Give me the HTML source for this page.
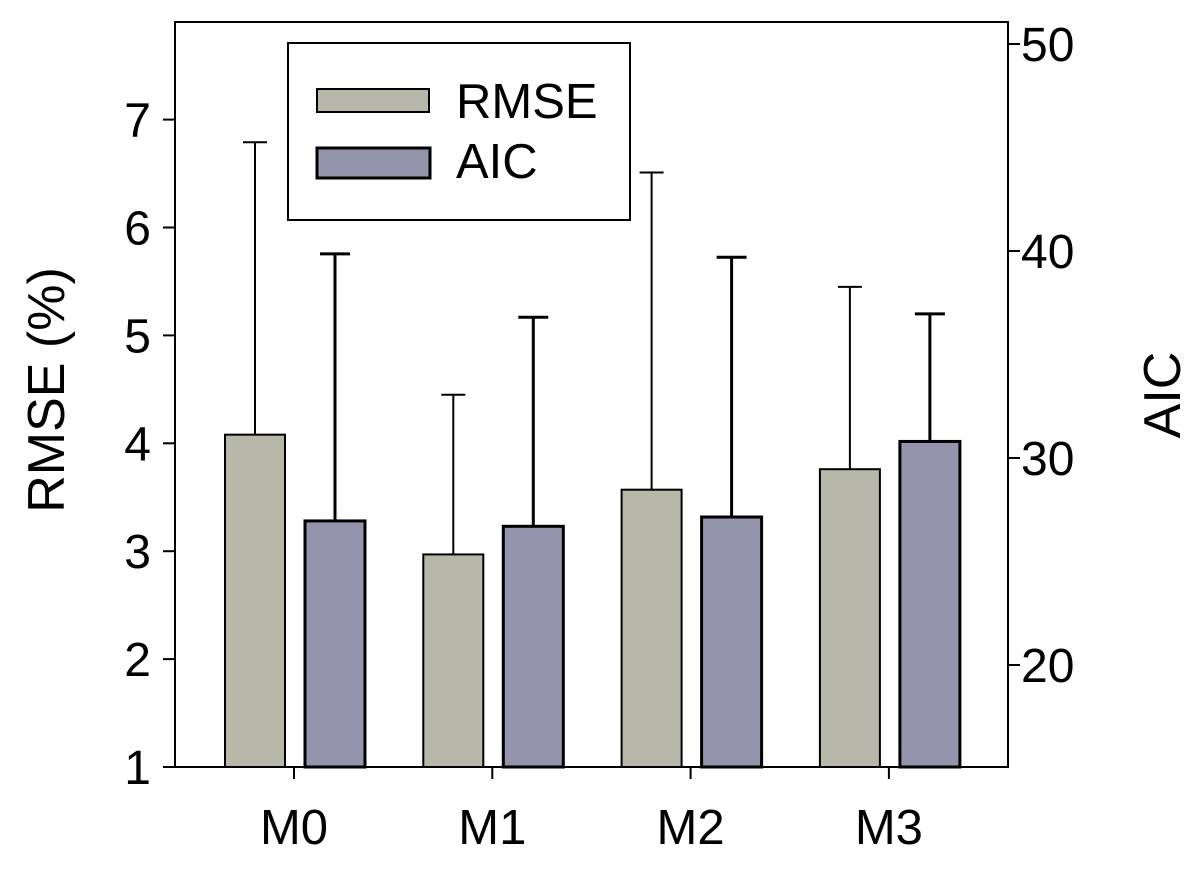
<!DOCTYPE html>
<html><head><meta charset="utf-8"><style>
html,body{margin:0;padding:0;background:#fff;}
svg{display:block;font-family:"Liberation Sans",Arial,sans-serif;}
</style></head><body>
<svg id="chart" width="1200" height="870" viewBox="0 0 1200 870" xmlns="http://www.w3.org/2000/svg"></svg>
<script>
const categories = ["M0","M1","M2","M3"];
const rmseValues = [4.08, 2.97, 3.57, 3.76];
const rmseErrors = [6.79, 4.45, 6.51, 5.45];
const aicValues = [26.96, 26.7, 27.15, 30.8];
const aicErrors = [39.86, 36.8, 39.7, 36.96];
const leftTicks = [1,2,3,4,5,6,7];
const rightTicks = [20,30,40,50];

const NS="http://www.w3.org/2000/svg";
const svg=document.getElementById('chart');
const L=175,R=1008,T=22,B=767;
const yL=v=>767-(v-1)*107.9;
const yR=v=>665-(v-20)*20.7;
const xC=i=>294+i*198.3;
function mk(tag,attrs,parent){const e=document.createElementNS(NS,tag);for(const k in attrs)e.setAttribute(k,attrs[k]);(parent||svg).appendChild(e);return e;}

categories.forEach((c,i)=>{
  const cx=xC(i);
  const g=mk('g',{});
  
  
  const rx=cx-39;
  const e1=mk('line',{x1:rx,x2:rx,y1:yL(rmseErrors[i]),y2:yL(rmseValues[i]),stroke:'#000','stroke-width':2},g);
  
  
  const c1=mk('line',{x1:rx-12,x2:rx+12,y1:yL(rmseErrors[i]),y2:yL(rmseErrors[i]),stroke:'#000','stroke-width':2},g);
  
  
  const b1=mk('rect',{x:cx-69,y:yL(rmseValues[i]),width:60,height:B-yL(rmseValues[i]),fill:'#b8b8aa',stroke:'#000','stroke-width':2},g);
  
  
  const ax=cx+41;
  const e2=mk('line',{x1:ax,x2:ax,y1:yR(aicErrors[i]),y2:yR(aicValues[i]),stroke:'#000','stroke-width':3},g);
  
  
  const c2=mk('line',{x1:ax-15,x2:ax+15,y1:yR(aicErrors[i]),y2:yR(aicErrors[i]),stroke:'#000','stroke-width':3},g);
  
  
  const b2=mk('rect',{x:cx+11,y:yR(aicValues[i]),width:60,height:B-yR(aicValues[i]),fill:'#9494ac',stroke:'#000','stroke-width':3},g);
  
  
  const t=mk('line',{x1:cx,x2:cx,y1:B,y2:B+12,stroke:'#000','stroke-width':2});
  
  
  const tl=mk('text',{x:cx,y:844,'text-anchor':'middle','font-size':49});
  tl.textContent=c;
  
  
});

const fr=mk('path',{d:`M${L},${T} H${R} V${B} H${L} Z`,fill:'none',stroke:'#000','stroke-width':2});



leftTicks.forEach(v=>{
  const t=mk('line',{x1:L-12,x2:L,y1:yL(v),y2:yL(v),stroke:'#000','stroke-width':2});
  
  
  const l=mk('text',{x:151,y:yL(v)+17,'text-anchor':'end','font-size':48});
  l.textContent=v;
  
  
});
rightTicks.forEach(v=>{
  const t=mk('line',{x1:R,x2:R+12,y1:yR(v),y2:yR(v),stroke:'#000','stroke-width':2});
  
  
  const l=mk('text',{x:1021,y:yR(v)+17,'text-anchor':'start','font-size':48});
  l.textContent=v;
  
  
});

const yt=mk('text',{x:0,y:0,transform:'translate(64,390) rotate(-90)','text-anchor':'middle','font-size':52});
yt.textContent='RMSE (%)';


const yt2=mk('text',{x:0,y:0,transform:'translate(1180,395) rotate(-90)','text-anchor':'middle','font-size':52});
yt2.textContent='AIC';



const lg=mk('g',{});


const lb=mk('rect',{x:288,y:43,width:342,height:177,fill:'#fff',stroke:'#000','stroke-width':2},lg);


const s1=mk('rect',{x:317,y:89,width:112,height:23,fill:'#b8b8aa',stroke:'#000','stroke-width':2},lg);


const t1=mk('text',{x:456,y:118,'font-size':49},lg);
t1.textContent='RMSE';


const s2=mk('rect',{x:317,y:148,width:113,height:30,fill:'#9494ac',stroke:'#000','stroke-width':3},lg);


const t2=mk('text',{x:456,y:178,'font-size':49},lg);
t2.textContent='AIC';


</script>
</body></html>
